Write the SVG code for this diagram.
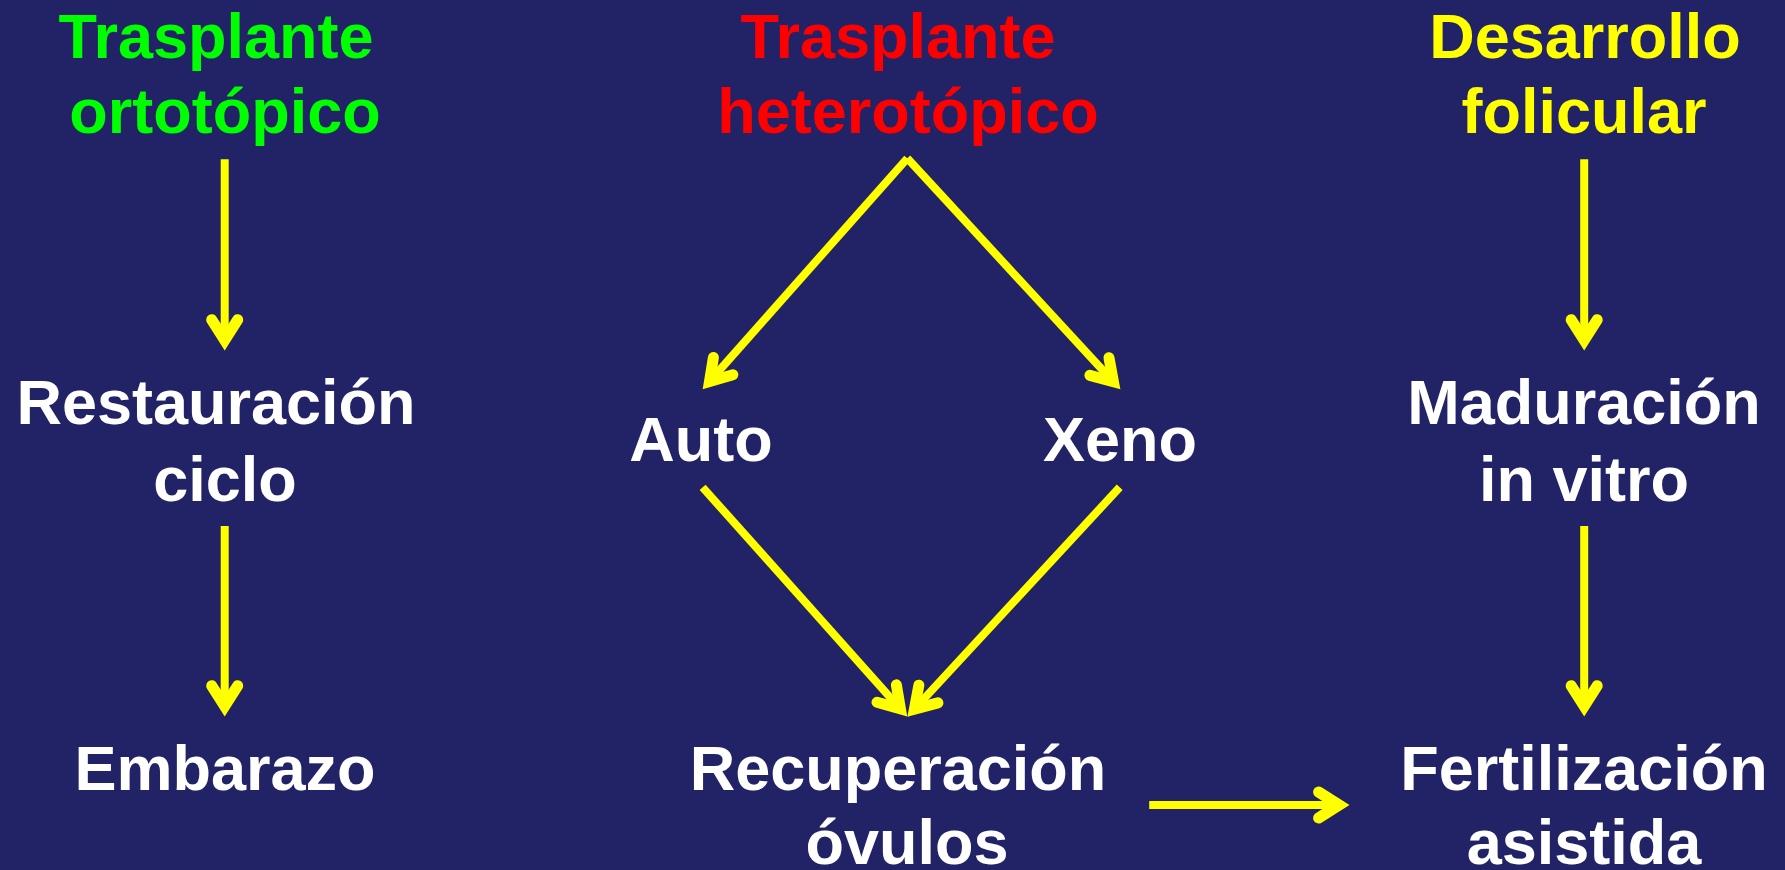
<svg xmlns="http://www.w3.org/2000/svg" width="1785" height="870" viewBox="0 0 1785 870">
<style>
text{font-family:"Liberation Sans",Arial,sans-serif;font-weight:bold;font-size:63px;text-anchor:middle}
.w{fill:#FFFFFF}.g{fill:#00FF00}.r{fill:#FF0000}.y{fill:#FFFF00}
.c{stroke:#FFFF00;stroke-width:8;fill:none;stroke-linecap:butt}
</style>
<defs>
<marker id="ah" markerUnits="userSpaceOnUse" orient="auto" refX="0" refY="0" markerWidth="40" markerHeight="40" overflow="visible">
<path d="M-20.6,-13 L0,0 L-20.6,13" fill="none" stroke="#FFFF00" stroke-width="11" stroke-linecap="round" stroke-linejoin="miter"/>
</marker>
</defs>
<rect width="1785" height="870" fill="#222266"/>
<g id="orto"><text class="g" x="216" y="58">Trasplante</text><text class="g" x="225" y="133">ortotópico</text></g>
<g id="restauracion"><text class="w" x="216" y="424">Restauración</text><text class="w" x="225" y="501">ciclo</text></g>
<g id="embarazo"><text class="w" x="225" y="790">Embarazo</text></g>
<g id="hetero"><text class="r" x="898" y="58">Trasplante</text><text class="r" x="908" y="133">heterotópico</text></g>
<g id="auto"><text class="w" x="701" y="461">Auto</text></g>
<g id="xeno"><text class="w" x="1120" y="461">Xeno</text></g>
<g id="recuperacion"><text class="w" x="898" y="790">Recuperación</text><text class="w" x="907" y="864">óvulos</text></g>
<g id="desarrollo"><text class="y" x="1585" y="58">Desarrollo</text><text class="y" x="1584" y="133">folicular</text></g>
<g id="maduracion"><text class="w" x="1584" y="424">Maduración</text><text class="w" x="1584" y="501">in vitro</text></g>
<g id="fertilizacion"><text class="w" x="1584" y="790">Fertilización</text><text class="w" x="1584" y="864">asistida</text></g>
<g id="connectors">
<line class="c" x1="224.7" y1="159.3" x2="224.7" y2="340.3" marker-end="url(#ah)"/>
<line class="c" x1="224.7" y1="526" x2="224.7" y2="706.3" marker-end="url(#ah)"/>
<line class="c" x1="907.3" y1="158.3" x2="709.5" y2="381.5" marker-end="url(#ah)"/>
<line class="c" x1="907.3" y1="158.3" x2="1113.4" y2="381.7" marker-end="url(#ah)"/>
<line class="c" x1="702.6" y1="487.3" x2="900.4" y2="708.9" marker-end="url(#ah)"/>
<line class="c" x1="1119.7" y1="487.3" x2="914.4" y2="709.1" marker-end="url(#ah)"/>
<line class="c" x1="1149.2" y1="805" x2="1339.2" y2="805" marker-end="url(#ah)"/>
<line class="c" x1="1584.2" y1="159.3" x2="1584.2" y2="340.3" marker-end="url(#ah)"/>
<line class="c" x1="1584.2" y1="526" x2="1584.2" y2="706.3" marker-end="url(#ah)"/>
</g>
</svg>
